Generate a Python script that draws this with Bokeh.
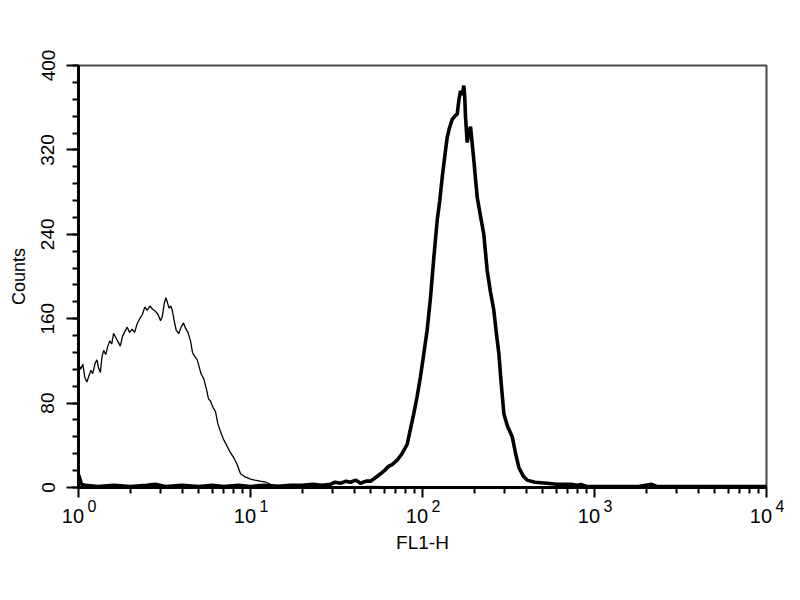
import math
from bokeh.plotting import figure
from bokeh.models import FixedTicker, Range1d, LogAxis
from bokeh.embed import file_html
from bokeh.resources import INLINE

# ---- data -------------------------------------------------------------
# control (thin line) histogram: FL1-H value, counts
ctrl_x = [1.00, 1.03, 1.06, 1.09, 1.12, 1.15, 1.18, 1.21, 1.25, 1.28, 1.31, 1.34,
          1.37, 1.40, 1.44, 1.48, 1.52, 1.56, 1.60, 1.65, 1.70, 1.75, 1.80, 1.86,
          1.92, 1.98, 2.05, 2.12, 2.19, 2.27, 2.35, 2.43, 2.51, 2.60, 2.70, 2.80,
          2.90, 3.00, 3.07, 3.15, 3.22, 3.28, 3.36, 3.44, 3.51, 3.60, 3.70, 3.83,
          3.95, 4.08, 4.19, 4.33, 4.48, 4.60, 4.75, 4.90, 5.00, 5.15, 5.35, 5.55,
          5.70, 5.85, 6.05, 6.26, 6.45, 6.69, 6.95, 7.32, 7.65, 8.00, 8.35, 8.75,
          9.30, 10.0, 10.6, 11.4, 12.3, 13.1, 14.5, 16.0, 20.0, 30.0, 50.0, 100.0,
          300.0, 1000.0, 10000.0]
ctrl_y = [118, 112, 117, 104, 100, 106, 111, 108, 118, 121, 113, 109,
          124, 130, 126, 134, 139, 136, 146, 142, 138, 134, 143, 148,
          152, 147, 150, 147, 155, 160, 164, 171, 168, 172, 169, 167,
          164, 158, 162, 174, 180, 176, 170, 172, 168, 158, 149, 146,
          152, 156, 151, 147, 139, 128, 124, 121, 116, 108, 103, 93,
          84, 82, 76, 72, 61, 53, 46, 39, 33, 28, 22, 13,
          10, 8, 7, 6, 5, 3, 2, 1, 1, 0, 1, 0,
          0, 0, 0]

# stained (thick line) histogram
stain_x = [1.00, 1.02, 1.04, 1.10, 1.30, 1.60, 2.00, 2.50, 2.80, 3.20, 4.0, 5.0,
           6.0, 7.0, 8.5, 10.0, 12.0, 14.0, 17.0, 20.0, 23.0, 26.0, 29.2, 31.0,
           33.4, 36.0, 38.1, 41.0, 43.6, 47.0, 49.9, 53.0, 57.0, 60.0, 63.5, 67.0,
           71.2, 76.0, 81.5, 85.0, 89.0, 93.0, 97.3, 102.0, 106.4, 111.3, 116.4, 121.7,
           126.0, 130.2, 135.0, 139.2, 143.0, 148.9, 154.0, 159.2, 163.0, 166.4, 170.0, 173.9,
           176.0, 177.9, 181.9, 186.0, 190.2, 194.0, 198.8, 208.0, 217.0, 227.2, 237.6, 248.0,
           259.8, 268.0, 277.9, 287.0, 297.2, 312.0, 332.5, 348.0, 363.1, 385.0, 406.0, 450.0,
           530.0, 600.0, 725.0, 800.0, 830.0, 900.0, 1085.0, 1400.0, 1800.0, 2150.0, 2300.0, 3000.0,
           5000.0, 7000.0, 10000.0]
stain_y = [12, 8, 3, 2, 1, 2, 1, 2, 3, 1, 2, 1,
           2, 1, 2, 1, 2, 1, 2, 2, 3, 2, 3, 5,
           4, 6, 5, 7, 4, 6, 6, 9, 13, 16, 20, 22,
           26, 32, 41, 55, 70, 86, 105, 128, 149, 180, 218, 253,
           272, 294, 315, 332, 340, 349, 352, 354, 368, 376, 372, 381,
           370, 351, 327, 336, 342, 328, 310, 275, 258, 240, 206, 186,
           168, 148, 127, 98, 70, 58, 48, 32, 19, 11, 7, 5,
           4, 3, 3, 2, 3, 1, 1, 1, 1, 3, 1, 1,
           1, 1, 1]

x_ticks = [1, 10, 100, 1000, 10000]
x_tick_base = ["10", "10", "10", "10", "10"]
x_tick_exp = ["0", "1", "2", "3", "4"]
y_ticks = [0, 80, 160, 240, 320, 400]
y_minor = list(range(0, 401, 16))
x_minor = [m * d for d in [1, 10, 100, 1000] for m in range(2, 10)]

FONT = "Liberation Sans"
NB = "\u00a0"

p = figure(width=784, height=584, x_axis_type="log",
           x_range=Range1d(1, 10000), y_range=Range1d(0, 400),
           output_backend="svg", toolbar_location=None,
           min_border_left=78, min_border_right=18,
           min_border_top=65, min_border_bottom=97,
           background_fill_color="white", border_fill_color="white")

p.grid.visible = False
p.outline_line_color = "#4a4a4a"
p.outline_line_width = 2

p.line(ctrl_x, ctrl_y, line_color="black", line_width=1.3)
p.line(stain_x, stain_y, line_color="black", line_width=3.6)

# x axis (ticks + exponents of the decade labels)
xa = p.xaxis[0]
xa.ticker = FixedTicker(ticks=x_ticks, minor_ticks=x_minor)
xa.major_label_overrides = {t: NB * 6 + e for t, e in zip(x_ticks, x_tick_exp)}
xa.axis_line_width = 3
xa.axis_line_color = "black"
xa.major_tick_out = 10
xa.major_tick_in = 0
xa.minor_tick_out = 6
xa.minor_tick_in = 0
xa.major_tick_line_width = 2
xa.minor_tick_line_width = 2
xa.major_label_text_font = FONT
xa.major_label_text_font_size = "16px"
xa.major_label_text_color = "black"
xa.major_label_standoff = 0

# second x axis carrying the "10" bases and the axis title
xb = LogAxis(ticker=FixedTicker(ticks=x_ticks, minor_ticks=[]))
xb.major_label_overrides = {t: b + NB * 2 for t, b in zip(x_ticks, x_tick_base)}
xb.axis_line_color = None
xb.major_tick_line_color = None
xb.minor_tick_line_color = None
xb.major_tick_out = 0
xb.major_tick_in = 0
xb.minor_tick_out = 0
xb.minor_tick_in = 0
xb.major_label_text_font = FONT
xb.major_label_text_font_size = "20px"
xb.major_label_text_color = "black"
xb.major_label_standoff = -13
xb.axis_label = "FL1-H"
xb.axis_label_text_font = FONT
xb.axis_label_text_font_size = "19px"
xb.axis_label_text_font_style = "normal"
xb.axis_label_text_color = "black"
xb.axis_label_standoff = 2
p.add_layout(xb, "below")

# y axis
ya = p.yaxis[0]
ya.ticker = FixedTicker(ticks=y_ticks, minor_ticks=y_minor)
ya.axis_line_width = 3
ya.axis_line_color = "black"
ya.major_tick_out = 12
ya.major_tick_in = 0
ya.minor_tick_out = 6
ya.minor_tick_in = 0
ya.major_tick_line_width = 2
ya.minor_tick_line_width = 2
ya.major_label_orientation = "vertical"
ya.major_label_text_font = FONT
ya.major_label_text_font_size = "19px"
ya.major_label_text_color = "black"
ya.major_label_standoff = 12
ya.axis_label = "Counts"
ya.axis_label_text_font = FONT
ya.axis_label_text_font_size = "18px"
ya.axis_label_text_font_style = "normal"
ya.axis_label_text_color = "black"
ya.axis_label_standoff = 10

open("out.html", "w").write(file_html(p, INLINE))
